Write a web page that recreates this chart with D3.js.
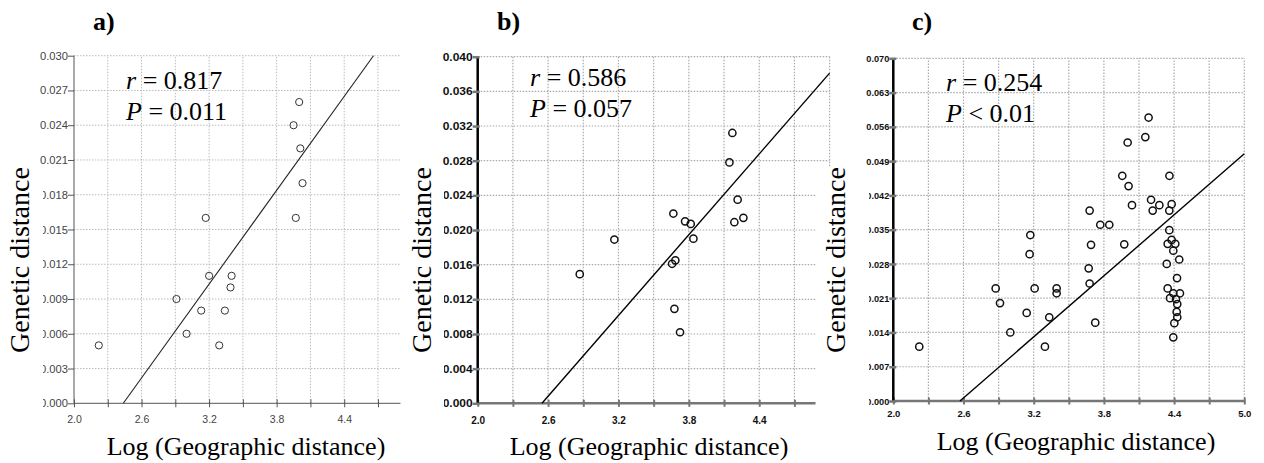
<!DOCTYPE html>
<html>
<head>
<meta charset="utf-8">
<script src="https://cdn.jsdelivr.net/npm/d3@7"></script>
<style>
  body { margin: 0; background: #fff; }
  svg { display: block; }
  .serif { font-family: "Liberation Serif", "Times New Roman", serif; }
  .sans { font-family: "Liberation Sans", "DejaVu Sans", sans-serif; }
</style>
</head>
<body>
<svg id="chart" width="1264" height="463"></svg>
<script>
// ---- data ----
const panelNames = ["a)", "b)", "c)"];
const rStats = ["0.817", "0.586", "0.254"];
const pStats = ["= 0.011", "= 0.057", "< 0.01"];
const xTitle = "Log (Geographic distance)";
const yTitle = "Genetic distance";

// panel a
const logDistA = [2.22, 2.91, 3.0, 3.13, 3.17, 3.2, 3.29, 3.34, 3.4, 3.39, 3.95, 4.0, 4.01, 4.03, 3.97];
const genDistA = [0.005, 0.009, 0.006, 0.008, 0.016, 0.011, 0.005, 0.008, 0.011, 0.010, 0.024, 0.026, 0.022, 0.019, 0.016];
const fitA = [[2.438, 0], [4.66, 0.030]];
const yTicksA = [0, 0.003, 0.006, 0.009, 0.012, 0.015, 0.018, 0.021, 0.024, 0.027, 0.030];

// panel b
const logDistB = [2.87, 3.165, 3.668, 3.768, 3.816, 3.839, 3.657, 3.685, 3.677, 3.725, 4.146, 4.171, 4.216, 4.188, 4.265];
const genDistB = [0.0149, 0.0189, 0.0219, 0.0210, 0.0207, 0.0190, 0.0161, 0.0165, 0.0109, 0.0082, 0.0278, 0.0312, 0.0235, 0.0209, 0.0214];
const fitB = [[2.548, 0], [5.0, 0.0381]];
const yTicksB = [0, 0.004, 0.008, 0.012, 0.016, 0.020, 0.024, 0.028, 0.032, 0.036, 0.040];

// panel c
const logDistC = [2.222, 2.875, 2.912, 3.0, 3.14, 3.171, 3.165, 3.208, 3.296, 3.333, 3.396, 3.396,
  3.678, 3.69, 3.67, 3.678, 3.726, 3.769, 3.846, 3.974, 3.957, 4.011, 4.003, 4.04, 4.154, 4.182,
  4.203, 4.274, 4.217, 4.379, 4.359, 4.36, 4.359, 4.379, 4.345, 4.41, 4.393, 4.444, 4.337, 4.425,
  4.345, 4.393, 4.45, 4.365, 4.416, 4.427, 4.422, 4.427, 4.402, 4.393];
const genDistC = [0.0111, 0.0230, 0.0200, 0.0140, 0.0180, 0.0339, 0.0300, 0.0230, 0.0111, 0.0171, 0.0230, 0.0220,
  0.0389, 0.0319, 0.0271, 0.0240, 0.0160, 0.0360, 0.0360, 0.0320, 0.0460, 0.0439, 0.0528, 0.0400, 0.0539, 0.0579,
  0.0411, 0.0400, 0.0389, 0.0402, 0.0389, 0.0460, 0.0349, 0.0329, 0.0321, 0.0321, 0.0307, 0.0289, 0.0280, 0.0251,
  0.0230, 0.0220, 0.0220, 0.0210, 0.0208, 0.0198, 0.0182, 0.0171, 0.0159, 0.0130];
const fitC = [[2.57, 0], [5.0, 0.0505]];
const yTicksC = [0, 0.007, 0.014, 0.021, 0.028, 0.035, 0.042, 0.049, 0.056, 0.063, 0.070];

const xGrid = [2.3, 2.6, 2.9, 3.2, 3.5, 3.8, 4.1, 4.4, 4.7, 5.0];
const xLabels = [2.0, 2.6, 3.2, 3.8, 4.4, 5.0];

const svg = d3.select("svg#chart");

const panels = [
  { xs: logDistA, ys: genDistA, fit: fitA, yTicks: yTicksA, xMax: 4.9, axisEnd: 4.9, tickMax: 4.7,
    left: 74, right: 400.5, top: 55.7, bottom: 403.3,
    axisColor: "#555", yAxisColor: "#555", axisW: 1, yAxisW: 1, gridColor: "#bbb", gridW: 1,
    labelColor: "#444", labelWeight: "normal", yLabelSize: 10, yLabelLen: 28, xLabelSize: 10.5, xLabelY: 20,
    yTickIn: 0, yTickOut: 6, xTickHalf: 4, dotStroke: "#333", dotW: 1, lineColor: "#222", lineW: 1.1,
    nameX: 93, statX: 126, statY: 89, yTitleX: 29, xTitleX: 246, xTitleY: 455, boxX0: 0, boxX1: 43 },
  { xs: logDistB, ys: genDistB, fit: fitB, yTicks: yTicksB, xMax: 5.0, axisEnd: 4.88, tickMax: 4.7,
    left: 477.7, right: 829.6, top: 56.7, bottom: 403.3,
    axisColor: "#777", yAxisColor: "#000", axisW: 2.5, yAxisW: 2.5, gridColor: "#aaa", gridW: 1.2,
    labelColor: "#111", labelWeight: "bold", yLabelSize: 10, yLabelLen: 30, xLabelSize: 10, xLabelY: 21,
    yTickIn: 2, yTickOut: 5, xTickHalf: 3.5, dotStroke: "#111", dotW: 1.5, lineColor: "#000", lineW: 1.4,
    nameX: 497, statX: 530, statY: 86, yTitleX: 431, xTitleX: 649, xTitleY: 455, boxX0: 405, boxX1: 444 },
  { xs: logDistC, ys: genDistC, fit: fitC, yTicks: yTicksC, xMax: 5.0, axisEnd: 5.0, tickMax: 5.0,
    left: 893.3, right: 1244.3, top: 58.3, bottom: 401,
    axisColor: "#777", yAxisColor: "#000", axisW: 2.5, yAxisW: 2.5, gridColor: "#aaa", gridW: 1.2,
    labelColor: "#111", labelWeight: "bold", yLabelSize: 9, yLabelLen: 23, xLabelSize: 9.5, xLabelY: 16,
    yTickIn: 3, yTickOut: 4, xTickHalf: 3.5, dotStroke: "#111", dotW: 1.5, lineColor: "#000", lineW: 1.4,
    nameX: 912, statX: 946, statY: 91, yTitleX: 845, xTitleX: 1076, xTitleY: 450, boxX0: 816, boxX1: 869 }
];

function near(a, b) { return Math.abs(a - b) < 1e-6; }

function drawPanel(p, i) {
  const x = d3.scaleLinear().domain([2.0, p.xMax]).range([p.left, p.right]);
  const y = d3.scaleLinear().domain([0, p.yTicks[p.yTicks.length - 1]]).range([p.bottom, p.top]);
  const g = svg.append("g");

  // gridlines
  const grid = g.append("g").attr("stroke", p.gridColor).attr("stroke-width", p.gridW)
    .attr("stroke-dasharray", "1.5,1.5");
  grid.selectAll("line.v")
    .data(xGrid.filter((d) => d <= p.xMax + 1e-6))
    .join("line")
    .attr("class", "v")
    .attr("x1", (d) => x(d)).attr("x2", (d) => x(d))
    .attr("y1", y.range()[0]).attr("y2", y.range()[1]);
  grid.selectAll("line.h")
    .data(p.yTicks.slice(1))
    .join("line")
    .attr("class", "h")
    .attr("x1", x(2.0)).attr("x2", x(p.xMax))
    .attr("y1", (d) => y(d)).attr("y2", (d) => y(d));

  // x axis
  const xTickVals = [2.0].concat(xGrid.filter((d) => d <= p.tickMax + 1e-6));
  const xAxis = d3.axisBottom(x)
    .tickValues(xTickVals)
    .tickSizeOuter(0)
    .tickFormat((d) => (xLabels.some((l) => near(l, d)) ? d3.format(".1f")(d) : ""));
  const xg = g.append("g").attr("transform", `translate(0,${p.bottom})`).call(xAxis);
  xg.select(".domain").attr("d", `M${x(2.0)},0H${x(p.axisEnd)}`)
    .attr("stroke", p.axisColor).attr("stroke-width", p.axisW);
  xg.selectAll(".tick line").attr("y1", -p.xTickHalf).attr("y2", p.xTickHalf)
    .attr("stroke", p.axisColor).attr("stroke-width", p.axisW > 1 ? 2 : 1);
  xg.selectAll(".tick text").attr("y", p.xLabelY).attr("dy", 0)
    .attr("fill", p.labelColor)
    .attr("class", "sans")
    .style("font-size", p.xLabelSize + "px")
    .style("font-weight", p.labelWeight);

  // y axis
  const yAxis = d3.axisLeft(y)
    .tickValues(p.yTicks)
    .tickSizeOuter(0)
    .tickFormat(d3.format(".3f"));
  const yg = g.append("g").attr("transform", `translate(${p.left},0)`).call(yAxis);
  yg.select(".domain").attr("d", `M0,${p.bottom}V${p.top}`)
    .attr("stroke", p.yAxisColor).attr("stroke-width", p.yAxisW);
  yg.selectAll(".tick line").attr("x1", -p.yTickOut).attr("x2", p.yTickIn)
    .attr("stroke", p.axisColor).attr("stroke-width", p.axisW > 1 ? 2.5 : 1);
  yg.selectAll(".tick text").attr("x", -p.yTickOut).attr("dy", "0.35em")
    .attr("fill", p.labelColor)
    .attr("textLength", p.yLabelLen).attr("lengthAdjust", "spacingAndGlyphs")
    .attr("class", "sans")
    .style("font-size", p.yLabelSize + "px")
    .style("font-weight", p.labelWeight);
  // d3 puts font-family on the axis group; drop it so the classes apply
  xg.attr("font-family", null);
  yg.attr("font-family", null);

  // regression line
  g.append("path")
    .datum(p.fit)
    .attr("d", d3.line().x((d) => x(d[0])).y((d) => y(d[1])))
    .attr("fill", "none").attr("stroke", p.lineColor).attr("stroke-width", p.lineW);

  // points
  g.append("g").selectAll("circle")
    .data(p.xs.map((v, k) => [v, p.ys[k]]))
    .join("circle")
    .attr("cx", (d) => x(d[0]))
    .attr("cy", (d) => y(d[1]))
    .attr("r", 3.6)
    .attr("fill", "none")
    .attr("stroke", p.dotStroke)
    .attr("stroke-width", p.dotW);

  // stats
  const st = g.append("text").attr("class", "serif").attr("x", p.statX).attr("y", p.statY)
    .style("font-size", "26px").attr("fill", "#000");
  st.append("tspan").style("font-style", "italic").text("r");
  st.append("tspan").text(" = " + rStats[i]);
  const sp = g.append("text").attr("class", "serif").attr("x", p.statX).attr("y", p.statY + 31)
    .style("font-size", "26px").attr("fill", "#000");
  sp.append("tspan").style("font-style", "italic").text("P");
  sp.append("tspan").text(" " + pStats[i]);

  // panel letter
  svg.append("text").attr("class", "serif").attr("x", p.nameX).attr("y", 30)
    .style("font-size", "26px").style("font-weight", "bold")
    .text(panelNames[i]);

  // x title
  svg.append("text").attr("class", "serif").attr("x", p.xTitleX).attr("y", p.xTitleY)
    .attr("text-anchor", "middle")
    .style("font-size", "26px")
    .text(xTitle);
}

panels.forEach(drawPanel);

// y titles sit in white boxes that hide part of the tick labels
panels.forEach((p) => {
  svg.append("rect")
    .attr("x", p.boxX0).attr("y", 167)
    .attr("width", p.boxX1 - p.boxX0).attr("height", 246)
    .attr("fill", "#fff");
  svg.append("text")
    .attr("class", "serif")
    .attr("transform", `translate(${p.yTitleX},260) rotate(-90)`)
    .attr("text-anchor", "middle")
    .style("font-size", "28px")
    .text(yTitle);
});
</script>
</body>
</html>
